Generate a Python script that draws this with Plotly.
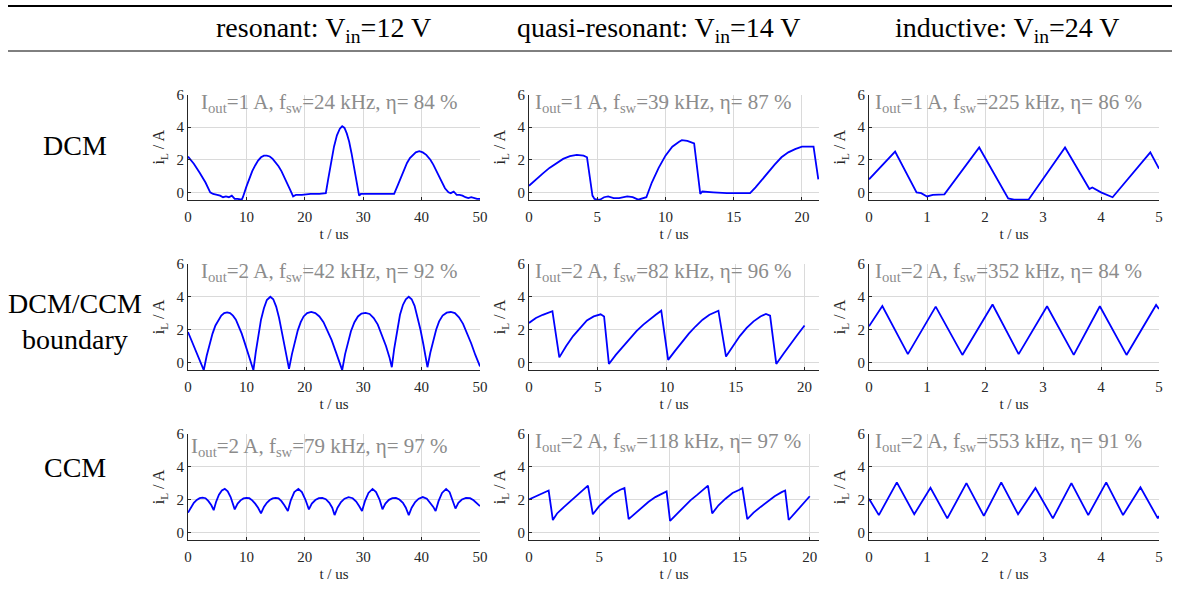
import plotly.graph_objects as go

W, H = 1181, 595

# ---------------- data ----------------
# row 1: DCM
res_dcm_t = [0, 1, 2, 3, 3.8, 4.3, 5, 5.5, 6, 6.5, 7, 7.5, 8, 8.5, 9.2,
             9.4, 10, 10.5, 11, 11.5, 12, 12.5, 13, 13.5, 14, 14.5, 15, 15.5, 16, 16.5, 17, 17.5, 18,
             18.5, 19.5, 21, 22.5, 23.6,
             24, 24.5, 25, 25.5, 26, 26.4, 26.8, 27.2, 27.6, 28, 28.5, 29, 29.3,
             29.6, 31, 33, 35.3,
             36, 36.5, 37, 37.5, 38, 38.5, 39, 39.6, 40.2, 40.8, 41.5, 42, 42.5, 43, 43.5, 44, 44.6,
             45, 45.5, 46, 46.5, 47, 47.5, 48, 48.5, 49, 49.5, 50]
res_dcm_i = [2.2, 1.75, 1.2, 0.6, 0.0, -0.1, -0.15, -0.2, -0.3, -0.25, -0.3, -0.2, -0.4, -0.4, -0.45,
             -0.3, 0.35, 0.85, 1.3, 1.65, 1.95, 2.15, 2.25, 2.25, 2.2, 2.05, 1.85, 1.6, 1.3, 0.95, 0.55, 0.15, -0.25,
             -0.15, -0.15, -0.1, -0.1, -0.05,
             0.8, 1.9, 2.8, 3.5, 3.9, 4.05, 3.95, 3.6, 3.1, 2.4, 1.4, 0.3, -0.2,
             -0.1, -0.1, -0.1, -0.1,
             0.5, 0.95, 1.4, 1.8, 2.1, 2.3, 2.45, 2.52, 2.45, 2.3, 2.0, 1.7, 1.35, 0.95, 0.6, 0.25, 0.0,
             -0.05, 0.05, -0.15, -0.15, -0.2, -0.3, -0.35, -0.3, -0.35, -0.4, -0.4]

qr_dcm_t = [0, 0.5, 1, 1.5, 2, 2.5, 3, 3.5, 4, 4.25, 4.65, 4.8, 5.0, 5.2, 5.5, 5.8, 6.2, 6.6, 7.2, 7.6, 8, 8.6,
            9, 9.5, 10, 10.5, 11, 11.2, 11.6, 12.1, 12.55, 12.7, 13.5, 14.5, 15.5, 16.2,
            16.6, 17, 17.5, 18, 18.5, 19, 19.5, 20, 20.85, 21.2]
qr_dcm_i = [0.4, 0.8, 1.15, 1.5, 1.8, 2.05, 2.22, 2.3, 2.25, 2.15, -0.2, -0.4, -0.45, -0.45, -0.3, -0.25, -0.35, -0.35, -0.25, -0.3, -0.45, -0.3,
            0.6, 1.5, 2.25, 2.8, 3.1, 3.2, 3.15, 3.0, -0.1, 0.05, 0.0, -0.05, -0.05, -0.05,
            0.3, 0.7, 1.25, 1.7, 2.15, 2.45, 2.65, 2.8, 2.8, 0.8]

ind_dcm_t = [0, 0.45, 0.82, 0.9, 1.0, 1.1, 1.3, 1.9, 2.4, 2.5, 2.6, 2.75, 3.38, 3.8, 3.85, 4.0, 4.2, 4.85, 5.0]
ind_dcm_i = [0.8, 2.5, 0.0, -0.05, -0.25, -0.15, -0.12, 2.75, -0.37, -0.45, -0.45, -0.45, 2.75, 0.2, 0.3, 0.0, -0.3, 2.45, 1.45]

# row 2: DCM/CCM boundary
res_bcm_t = [0, 0.5, 1, 1.5, 2, 2.7,
             3.2, 3.7, 4.2, 4.7, 5.2, 5.7, 6.2, 6.7, 7.2, 7.7, 8.2, 8.7, 9.2, 9.7, 10.2, 10.7, 11.2,
             11.6, 12, 12.5, 13, 13.5, 14.1, 14.6, 15.1, 15.6, 16.1, 16.6, 17.3,
             17.8, 18.3, 18.8, 19.3, 19.8, 20.4, 21.1, 21.8, 22.5, 23.2, 23.9, 24.6, 25.3, 26, 26.4,
             26.9, 27.4, 27.9, 28.5, 29.1, 29.7, 30.4, 31.1, 31.8, 32.5, 33.2, 33.9, 34.5, 34.9,
             35.3, 35.8, 36.3, 36.8, 37.3, 37.8, 38.3, 38.8, 39.3, 39.8, 40.3, 41,
             41.5, 42, 42.5, 43, 43.6, 44.3, 45, 45.7, 46.4, 47.1, 47.8, 48.5, 49.2, 50]
res_bcm_i = [1.85, 1.4, 0.95, 0.5, 0.05, -0.48,
             0.4, 1.15, 1.75, 2.25, 2.6, 2.85, 3.0, 3.05, 3.0, 2.85, 2.6, 2.2, 1.75, 1.2, 0.6, 0.0, -0.48,
             0.6, 1.6, 2.6, 3.3, 3.8, 4.0, 3.85, 3.4, 2.7, 1.8, 0.8, -0.4,
             0.5, 1.3, 1.95, 2.45, 2.8, 3.0, 3.07, 3.0, 2.8, 2.45, 1.95, 1.35, 0.65, -0.1, -0.48,
             0.5, 1.3, 1.9, 2.45, 2.8, 2.97, 3.02, 2.95, 2.7, 2.3, 1.7, 1.0, 0.3, -0.3,
             0.8, 2.0, 2.9, 3.5, 3.85, 4.0, 3.85, 3.45, 2.8, 2.0, 1.1, -0.3,
             0.6, 1.4, 2.0, 2.5, 2.85, 3.03, 3.07, 3.0, 2.75, 2.35, 1.8, 1.15, 0.45, -0.25]

qr_bcm_t = [0, 0.5, 1, 1.7, 2.2, 2.7, 3.2, 3.7, 4.2, 4.7, 5.2, 5.45, 5.8,
            6.3, 6.8, 7.3, 7.8, 8.3, 8.8, 9.2, 9.6, 10.1,
            10.6, 11.1, 11.6, 12.1, 12.6, 13.1, 13.75, 14.3,
            14.8, 15.3, 15.8, 16.3, 16.8, 17.2, 17.5, 17.95,
            18.5, 19, 19.5, 20]
qr_bcm_i = [2.4, 2.7, 2.9, 3.12, 0.3, 1.0, 1.6, 2.1, 2.55, 2.8, 2.93, 2.8, -0.1,
            0.45, 0.95, 1.45, 1.9, 2.3, 2.65, 2.9, 3.15, 0.15,
            0.7, 1.25, 1.75, 2.2, 2.6, 2.9, 3.15, 0.35,
            1.0, 1.6, 2.1, 2.5, 2.8, 2.95, 2.85, -0.1,
            0.55, 1.15, 1.7, 2.25]

ind_bcm_t = [0, 0.23, 0.67, 1.15, 1.61, 2.13, 2.58, 3.07, 3.53, 3.98, 4.44, 4.95, 5.0]
ind_bcm_i = [2.2, 3.43, 0.5, 3.4, 0.45, 3.53, 0.5, 3.42, 0.45, 3.42, 0.45, 3.5, 3.25]

# row 3: CCM
res_ccm_t = [0, 0.5, 1, 1.5, 2, 2.5, 3, 3.5, 4, 4.4,
             4.8, 5.3, 5.8, 6.3, 6.8, 7.3, 8,
             8.5, 9, 9.5, 10, 10.5, 11, 11.5, 12, 12.5,
             13, 13.5, 14, 14.5, 15, 15.5, 16, 16.5, 17.1,
             17.6, 18.2, 18.9, 19.5, 20.1, 20.7,
             21.2, 21.8, 22.4, 23, 23.6, 24.2, 24.7, 25.1,
             25.6, 26.2, 26.8, 27.5, 28.2, 28.8, 29.3, 29.8,
             30.3, 30.9, 31.6, 32.2, 32.8, 33.3,
             33.8, 34.4, 35, 35.6, 36.2, 36.8, 37.3, 37.8,
             38.3, 38.9, 39.5, 40.2, 40.9, 41.5, 42, 42.4,
             42.9, 43.5, 44.2, 44.8, 45.3, 45.8,
             46.3, 46.9, 47.6, 48.3, 48.9, 49.5, 50]
res_ccm_i = [1.2, 1.55, 1.8, 1.98, 2.08, 2.12, 2.08, 1.9, 1.65, 1.35,
             1.85, 2.3, 2.55, 2.65, 2.5, 2.15, 1.4,
             1.75, 1.95, 2.07, 2.1, 2.08, 1.95, 1.75, 1.5, 1.15,
             1.55, 1.8, 1.97, 2.07, 2.1, 2.07, 1.9, 1.65, 1.3,
             1.95, 2.45, 2.65, 2.45, 2.0, 1.4,
             1.75, 1.97, 2.08, 2.1, 2.02, 1.8, 1.5, 1.05,
             1.5, 1.85, 2.05, 2.15, 2.08, 1.88, 1.6, 1.3,
             1.9, 2.4, 2.65, 2.45, 2.0, 1.4,
             1.75, 1.98, 2.08, 2.1, 2.0, 1.8, 1.5, 1.05,
             1.5, 1.85, 2.05, 2.15, 2.05, 1.8, 1.55, 1.3,
             1.9, 2.4, 2.65, 2.45, 2.0, 1.45,
             1.8, 2.0, 2.1, 2.08, 1.95, 1.78, 1.6]

qr_ccm_t = [0, 0.5, 1, 1.4, 1.7, 2.0, 2.5, 3, 3.5, 4.2, 4.55, 5, 5.5, 6, 6.5, 6.8, 7.1,
            7.5, 8, 8.5, 9, 9.5, 9.8, 10.05, 10.5, 11, 11.5, 12, 12.4, 12.75, 13.05,
            13.5, 14, 14.5, 15, 15.2, 15.55, 16, 16.5, 17, 17.5, 18, 18.25, 18.5, 19, 19.5, 20]
qr_ccm_i = [2.0, 2.2, 2.35, 2.55, 0.75, 1.15, 1.55, 1.95, 2.3, 2.85, 1.1, 1.6, 2.0, 2.35, 2.6, 2.7, 0.8,
            1.1, 1.5, 1.85, 2.15, 2.4, 2.5, 0.7, 1.1, 1.55, 1.95, 2.3, 2.6, 2.85, 1.15,
            1.65, 2.05, 2.4, 2.6, 2.7, 0.8, 1.2, 1.55, 1.9, 2.2, 2.45, 2.55, 0.75, 1.25, 1.75, 2.2]

ind_ccm_t = [0, 0.17, 0.48, 0.78, 1.06, 1.35, 1.68, 1.98, 2.28, 2.57, 2.87, 3.17, 3.49, 3.78, 4.09, 4.38, 4.68, 4.98, 5.0]
ind_ccm_i = [2.05, 1.05, 3.05, 1.1, 2.72, 0.85, 3.0, 1.0, 3.05, 1.1, 2.7, 0.85, 3.0, 1.05, 3.05, 1.05, 2.75, 0.85, 1.0]

col_titles = ["resonant: V<sub>in</sub>=12 V", "quasi-resonant: V<sub>in</sub>=14 V", "inductive: V<sub>in</sub>=24 V"]
row_titles = ["DCM", "DCM/CCM<br>boundary", "CCM"]

panel_t = [[res_dcm_t, qr_dcm_t, ind_dcm_t], [res_bcm_t, qr_bcm_t, ind_bcm_t], [res_ccm_t, qr_ccm_t, ind_ccm_t]]
panel_i = [[res_dcm_i, qr_dcm_i, ind_dcm_i], [res_bcm_i, qr_bcm_i, ind_bcm_i], [res_ccm_i, qr_ccm_i, ind_ccm_i]]

iout = [[1, 1, 1], [2, 2, 2], [2, 2, 2]]
fsw = [[24, 39, 225], [42, 82, 352], [79, 118, 553]]
eta = [[84, 87, 86], [92, 96, 84], [97, 97, 91]]

x_ranges = [[[0, 50], [0, 21.25], [0, 5]], [[0, 50], [0, 21.05], [0, 5]], [[0, 50], [0, 20.66], [0, 5]]]
x_ticks = [[0, 10, 20, 30, 40, 50], [0, 5, 10, 15, 20], [0, 1, 2, 3, 4, 5]]
y_ticks = [0, 2, 4, 6]
y_range = [-0.47, 6.0]

# ---------------- layout geometry (pixels) ----------------
col_px = [(188, 480), (529, 819), (869, 1159)]
row_px = [(94.5, 200), (264, 370), (434, 540)]
ann_x_px = [[199, 533, 873], [199, 533, 873], [189, 533, 873]]
ann_dy_px = [[8, 8, 8], [8, 8, 8], [13, 8, 8]]
col_title_x = [323.5, 658.5, 1006.5]
row_title_y = [145, 321, 467]

FONT = "Liberation Serif, Times New Roman, serif"
AX = "#262626"
GRID = "#dadada"

fig = go.Figure()
layout = dict(width=W, height=H, margin=dict(l=0, r=0, t=0, b=0, pad=0), autosize=False,
              paper_bgcolor="white", plot_bgcolor="white", showlegend=False,
              font=dict(family=FONT, color=AX, size=15))
annotations = []

k = 0
for r in range(3):
    for c in range(3):
        k += 1
        xa = "x" if k == 1 else f"x{k}"
        ya = "y" if k == 1 else f"y{k}"
        fig.add_trace(go.Scatter(x=panel_t[r][c], y=panel_i[r][c], mode="lines",
                                 line=dict(color="#0000ff", width=1.8),
                                 xaxis=xa, yaxis=ya, hoverinfo="skip"))
        x0, x1 = col_px[c]
        y0, y1 = row_px[r]
        layout["xaxis" if k == 1 else f"xaxis{k}"] = dict(
            domain=[x0 / W, x1 / W], anchor=ya, range=x_ranges[r][c], automargin=False,
            tickvals=x_ticks[c], showgrid=True, gridcolor=GRID, gridwidth=1,
            zeroline=False, showline=True, linecolor=AX, linewidth=1,
            ticks="inside", ticklen=3, tickcolor=AX, tickwidth=1, ticklabelstandoff=3,
            tickfont=dict(family=FONT, size=15, color=AX),
            title=dict(text="t / us", font=dict(family=FONT, size=15, color=AX), standoff=4))
        layout["yaxis" if k == 1 else f"yaxis{k}"] = dict(
            domain=[1 - y1 / H, 1 - y0 / H], anchor=xa, range=y_range, automargin=False,
            tickvals=y_ticks, showgrid=True, gridcolor=GRID, gridwidth=1,
            zeroline=False, showline=True, linecolor=AX, linewidth=1,
            ticks="inside", ticklen=3, tickcolor=AX, tickwidth=1,
            tickfont=dict(family=FONT, size=15, color=AX),
            title=dict(text="i<sub>L</sub> / A", font=dict(family=FONT, size=16, color=AX), standoff=7))
        annotations.append(dict(
            xref="paper", yref="paper", x=ann_x_px[r][c] / W, y=1 - (y0 + ann_dy_px[r][c]) / H,
            xanchor="left", yanchor="middle", showarrow=False,
            text=f"I<sub>out</sub>={iout[r][c]} A, f<sub>sw</sub>={fsw[r][c]} kHz, \u03b7= {eta[r][c]} %",
            font=dict(family=FONT, size=21, color="#8c8c8c")))

for c in range(3):
    annotations.append(dict(xref="paper", yref="paper", x=col_title_x[c] / W, y=1 - 29 / H,
                            xanchor="center", yanchor="middle", showarrow=False,
                            text=col_titles[c], font=dict(family=FONT, size=28, color="black")))
for r in range(3):
    annotations.append(dict(xref="paper", yref="paper", x=75 / W, y=1 - row_title_y[r] / H,
                            xanchor="center", yanchor="middle", showarrow=False,
                            text=row_titles[r], font=dict(family=FONT, size=28, color="black")))

layout["annotations"] = annotations
layout["shapes"] = [
    dict(type="line", xref="paper", yref="paper", x0=8 / W, x1=1172 / W, y0=1 - 6 / H, y1=1 - 6 / H,
         line=dict(color="black", width=2)),
    dict(type="line", xref="paper", yref="paper", x0=8 / W, x1=1172 / W, y0=1 - 51 / H, y1=1 - 51 / H,
         line=dict(color="black", width=1)),
]
fig.update_layout(**layout)
fig.write_html("out.html")
